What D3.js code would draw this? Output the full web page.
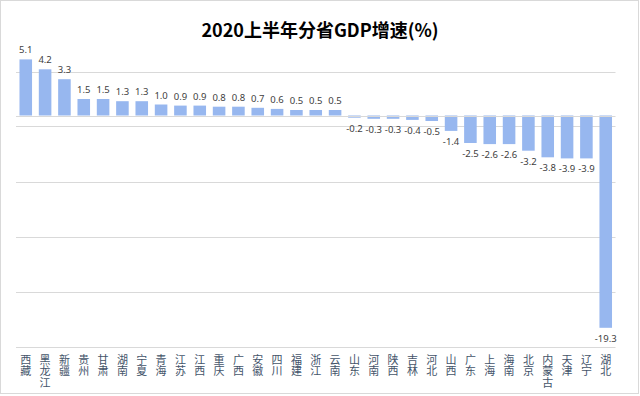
<!DOCTYPE html>
<html><head><meta charset="utf-8">
<script src="https://cdn.jsdelivr.net/npm/d3@7"></script>
<style>body{margin:0;background:#fff}svg{display:block}</style>
</head><body>
<script>
const categories = ["西藏","黑龙江","新疆","贵州","甘肃","湖南","宁夏","青海","江苏","江西","重庆","广西","安徽","四川","福建","浙江","云南","山东","河南","陕西","吉林","河北","山西","广东","上海","海南","北京","内蒙古","天津","辽宁","湖北"];
const values = [5.1,4.2,3.3,1.5,1.5,1.3,1.3,1.0,0.9,0.9,0.8,0.8,0.7,0.6,0.5,0.5,0.5,-0.2,-0.3,-0.3,-0.4,-0.5,-1.4,-2.5,-2.6,-2.6,-3.2,-3.8,-3.9,-3.9,-19.3];
const gridTicks = [4,-1,-6,-11,-16,-21];
const title = "2020上半年分省GDP增速(%)";

const W=640,H=396;
const svg=d3.select("body").append("svg").attr("width",W).attr("height",H);
svg.append("rect").attr("x",0.5).attr("y",0.5).attr("width",638).attr("height",393)
  .attr("fill","#fff").attr("stroke","#d9d9d9");

svg.append("text").attr("x",320).attr("y",37).attr("text-anchor","middle")
  .attr("font-family","'Noto Sans CJK SC','Noto Sans',sans-serif").attr("font-weight","bold")
  .attr("font-size",18).attr("fill","#000").text(title);

const x=d3.scaleBand().domain(categories).range([16,615.5]).paddingInner(0.35).paddingOuter(0.18);
const y=d3.scaleLinear().domain([-21,4]).range([346.5,71.5]);

const grid=svg.append("g");
grid.selectAll("line").data(gridTicks).join("line")
  .attr("x1",16).attr("x2",615.5)
  .attr("y1",d=>Math.round(y(d))+0.5).attr("y2",d=>Math.round(y(d))+0.5)
  .attr("stroke","#d9d9d9").attr("stroke-width",1);

svg.append("g").selectAll("rect").data(values).join("rect")
  .attr("x",(d,i)=>x(categories[i]))
  .attr("width",x.bandwidth())
  .attr("y",d=>y(Math.max(0,d)))
  .attr("height",d=>Math.abs(y(d)-y(0)))
  .attr("fill","#97b7ef");

// zero axis
svg.append("line").attr("x1",16).attr("x2",615.5)
  .attr("y1",Math.round(y(0))+0.5).attr("y2",Math.round(y(0))+0.5)
  .attr("stroke","#d9d9d9");

svg.append("g").selectAll("text").data(values).join("text")
  .attr("x",(d,i)=>x(categories[i])+x.bandwidth()/2)
  .attr("y",d=>d>=0?y(d)-6:y(d)+14)
  .attr("text-anchor","middle")
  .attr("font-family","'Noto Sans','DejaVu Sans',sans-serif")
  .attr("font-size",9.5).attr("fill","#404040")
  .text(d=>d3.format(".1f")(d).replace("−","-"));

svg.append("g").selectAll("text").data(categories).join("text")
  .attr("x",d=>x(d)+x.bandwidth()/2)
  .attr("y",354)
  .style("writing-mode","vertical-rl")
  .style("text-orientation","upright")
  .attr("letter-spacing",0.5)
  .attr("font-family","'Noto Sans CJK SC',sans-serif").attr("font-size",11).attr("fill","#44546a")
  .text(d=>d);
</script>
</body></html>
